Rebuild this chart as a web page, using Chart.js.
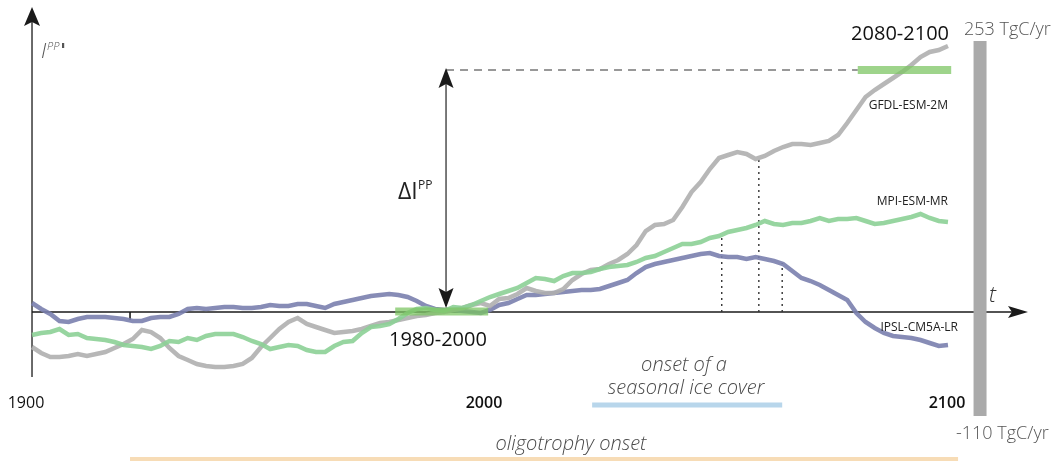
<!DOCTYPE html>
<html>
<head>
<meta charset="utf-8">
<script src="https://cdn.jsdelivr.net/npm/chart.js@4"></script>
<style>
  html, body { margin: 0; padding: 0; background: #fff; }
  #wrap { width: 1059px; height: 462px; position: relative; }
</style>
</head>
<body>
<div id="wrap"><canvas id="ppChart"></canvas></div>
<script>
// time axis, one value every 2 years
const years = [];
for (let yr = 1900; yr <= 2100; yr += 2) years.push(yr);

// I_PP anomaly per model (arbitrary units, 0 = 1980-2000 mean)
const gfdl = [
  -35, -41, -45, -45, -44, -42, -44, -42, -40, -36,
  -32, -27, -18, -20, -26, -36, -44, -48, -52, -54,
  -55, -55, -54, -52, -46, -35, -26, -17, -10, -6,
  -12, -15, -18, -21, -20, -19, -17, -14, -11, -10,
  -8, -6, -4, -3, -1, 0, 2, 4, 7, 9,
  6, 13, 14, 18, 24, 21, 19, 19, 23, 32,
  38, 42, 43, 48, 52, 58, 67, 81, 87, 88,
  92, 105, 120, 130, 143, 154, 157, 160, 158, 153,
  156, 161, 165, 168, 168, 167, 169, 171, 177, 189,
  202, 215, 222, 228, 234, 240, 247, 255, 260, 262,
  266
];
const mpi = [
  -23, -21, -20, -17, -23, -22, -26, -27, -28, -30,
  -33, -34, -35, -37, -34, -29, -30, -26, -28, -24,
  -22, -22, -22, -25, -29, -32, -37, -35, -33, -34,
  -38, -40, -40, -34, -30, -29, -21, -15, -14, -12,
  -7, -1, 3, 4, 2, 1, 5, 4, 7, 11,
  15, 18, 21, 24, 29, 34, 33, 31, 36, 39,
  39, 40, 43, 45, 46, 47, 50, 54, 56, 60,
  64, 68, 68, 70, 74, 76, 80, 82, 84, 87,
  91, 88, 87, 89, 89, 91, 94, 91, 93, 93,
  94, 91, 88, 89, 91, 93, 95, 98, 94, 91,
  90
];
const ipsl = [
  9, 3, -2, -9, -10, -7, -5, -5, -5, -6,
  -7, -9, -9, -6, -5, -5, -2, 3, 4, 3,
  4, 5, 5, 4, 4, 5, 7, 6, 6, 8,
  8, 6, 4, 8, 10, 12, 14, 16, 17, 18,
  17, 15, 11, 6, 3, 2, 2, 1, 0, -1,
  2, 7, 9, 13, 17, 17, 18, 19, 20, 21,
  22, 22, 23, 26, 29, 32, 39, 45, 48, 50,
  52, 54, 56, 58, 59, 56, 55, 55, 53, 55,
  53, 51, 48, 41, 34, 31, 27, 22, 17, 12,
  -1, -10, -16, -21, -24, -25, -26, -28, -31, -34,
  -33
];

const tickYears = [1900, 2000, 2100];
// reference periods: start, end, level
const refStart = [1979.3, 2080.3];
const refEnd = [1999.6, 2100.7];
const refLevel = [0.5, 242];
// onset markers (dotted): year and the curve value where they stop
const onsetYears = [2050.6, 2058.7, 2063.8];
const onsetTops = [77, 153, 49];
// ice cover and oligotrophy onset periods
const icePeriod = [2022.3, 2063.8];
const oligoPeriod = [1921.4, 2102.2];
// range bar on the right (253 / -110 TgC/yr)
const rangeYear = 2107;
const rangeLow = -104;
const rangeHigh = 271;
const deltaYear = 1990.4;

function seg(x1, y1, x2, y2) {
  return [{ x: x1, y: y1 }, { x: x2, y: y2 }];
}
function series(vals) {
  return vals.map((v, i) => ({ x: years[i], y: v }));
}

const datasets = [
  { data: seg(oligoPeriod[0], -147, oligoPeriod[1], -147), borderColor: '#f7dcb6', borderWidth: 4, order: 9 },
  { data: seg(icePeriod[0], -93, icePeriod[1], -93), borderColor: '#b8d6eb', borderWidth: 5, order: 9 },
  { data: seg(rangeYear, rangeLow, rangeYear, rangeHigh), borderColor: '#aaaaaa', borderWidth: 13, order: 9 },
  { data: seg(deltaYear, refLevel[1], refStart[1], refLevel[1]), borderColor: '#333', borderWidth: 1.2, borderDash: [8, 6], order: 8 },
  { data: seg(deltaYear, 6, deltaYear, 236), borderColor: '#333', borderWidth: 1.3, order: 8 }
];
onsetYears.forEach((yr, i) => {
  datasets.push({ data: seg(yr, 0, yr, onsetTops[i]), borderColor: '#333', borderWidth: 1.4, borderDash: [2, 4], order: 7 });
});
datasets.push(
  { label: 'GFDL-ESM-2M', data: series(gfdl), borderColor: 'rgba(175,175,175,0.9)', borderWidth: 4.5, order: 5 },
  { label: 'MPI-ESM-MR', data: series(mpi), borderColor: 'rgba(140,208,150,0.9)', borderWidth: 4.5, order: 4 },
  { label: 'IPSL-CM5A-LR', data: series(ipsl), borderColor: 'rgba(122,128,174,0.9)', borderWidth: 4.5, order: 6 }
);
refStart.forEach((s, i) => {
  datasets.push({ data: seg(s, refLevel[i], refEnd[i], refLevel[i]), borderColor: 'rgba(125,198,100,0.75)', borderWidth: 8, order: 1 });
});
datasets.forEach(d => {
  d.pointRadius = 0;
  d.tension = 0;
  d.fill = false;
  d.clip = false;
  d.borderCapStyle = 'butt';
});

function head(ctx, x, y, dir, len, half) {
  ctx.beginPath();
  ctx.moveTo(x, y);
  if (dir === 'up') { ctx.lineTo(x - half, y + len); ctx.lineTo(x, y + len - 4); ctx.lineTo(x + half, y + len); }
  if (dir === 'down') { ctx.lineTo(x - half, y - len); ctx.lineTo(x, y - len + 4); ctx.lineTo(x + half, y - len); }
  if (dir === 'right') { ctx.lineTo(x - len, y - half); ctx.lineTo(x - len + 4, y); ctx.lineTo(x - len, y + half); }
  ctx.closePath();
  ctx.fill();
}

const annotations = {
  id: 'annotations',
  beforeDatasetsDraw(chart) {
    const { ctx, scales: { x, y } } = chart;
    const x0 = x.getPixelForValue(1900);
    const y0 = y.getPixelForValue(0);
    ctx.save();
    ctx.strokeStyle = '#1a1a1a';
    ctx.fillStyle = '#1a1a1a';
    ctx.lineWidth = 1.3;
    // y axis with arrow
    ctx.beginPath();
    ctx.moveTo(x0, y.getPixelForValue(-65));
    ctx.lineTo(x0, 20);
    ctx.stroke();
    head(ctx, x0, 7, 'up', 19, 8);
    // x axis with arrow
    ctx.beginPath();
    ctx.moveTo(x0, y0);
    ctx.lineTo(1015, y0);
    ctx.stroke();
    head(ctx, 1028, y0, 'right', 20, 6);
    // small tick
    const tx = x.getPixelForValue(oligoPeriod[0]);
    ctx.lineWidth = 1.6;
    ctx.beginPath();
    ctx.moveTo(tx, y0);
    ctx.lineTo(tx, y0 + 8);
    ctx.stroke();
    ctx.restore();
  },
  afterDatasetsDraw(chart) {
    const { ctx, scales: { x, y } } = chart;
    const dx = x.getPixelForValue(deltaYear);
    ctx.save();
    ctx.fillStyle = '#1a1a1a';
    head(ctx, dx, y.getPixelForValue(refLevel[1]) - 2, 'up', 20, 7.5);
    head(ctx, dx, y.getPixelForValue(0) - 4, 'down', 20, 7.5);

    const F = '"Open Sans", sans-serif';
    ctx.textBaseline = 'alphabetic';
    // y axis label I^PP'
    ctx.fillStyle = '#555';
    ctx.font = 'italic 300 21px ' + F;
    ctx.textAlign = 'left';
    ctx.fillText('I', 41, 58);
    ctx.font = 'italic 300 11px ' + F;
    ctx.fillText('PP', 47, 50);
    ctx.fillRect(62, 43, 2.2, 5);

    // delta label
    ctx.fillStyle = '#222';
    ctx.font = '23px ' + F;
    ctx.fillText('\u0394I', 398, 199);
    ctx.font = '12px ' + F;
    ctx.fillText('PP', 418, 189);

    // t
    ctx.fillStyle = '#333';
    ctx.font = 'italic 300 22px ' + F;
    ctx.fillText('t', 989, 302);

    // period labels
    ctx.fillStyle = '#111';
    ctx.font = '20px ' + F;
    ctx.textAlign = 'right';
    ctx.fillText('2080-2100', 949, 40);
    ctx.textAlign = 'left';
    ctx.fillText('1980-2000', 389, 346);

    // range labels
    ctx.fillStyle = '#555';
    ctx.font = '300 18px ' + F;
    ctx.fillText('253 TgC/yr', 964, 35);
    ctx.fillText('-110 TgC/yr', 956, 439);

    // model labels
    ctx.fillStyle = '#222';
    ctx.font = '12px ' + F;
    ctx.textAlign = 'right';
    ctx.fillText('GFDL-ESM-2M', 948, 109);
    ctx.fillText('MPI-ESM-MR', 948, 205);
    ctx.fillText('IPSL-CM5A-LR', 958, 331);

    // year ticks
    ctx.fillStyle = '#111';
    ctx.textAlign = 'center';
    tickYears.forEach((yr, i) => {
      ctx.font = (i === 0 ? '' : '600 ') + '16px ' + F;
      const off = i === 2 ? -1 : -6;
      ctx.fillText(String(yr), x.getPixelForValue(yr) + off, 408);
    });

    // period captions
    ctx.fillStyle = '#4a4a4a';
    ctx.font = 'italic 300 20px ' + F;
    ctx.fillText('onset of a', 684, 371);
    ctx.fillText('seasonal ice cover', 686, 394);
    ctx.fillText('oligotrophy onset', 571, 450);
    ctx.restore();
  }
};

const ctx = document.getElementById('ppChart').getContext('2d');
new Chart(ctx, {
  type: 'line',
  data: { datasets: datasets },
  options: {
    responsive: true,
    maintainAspectRatio: false,
    animation: false,
    layout: { padding: 0 },
    plugins: {
      legend: { display: false },
      tooltip: { enabled: false }
    },
    scales: {
      x: { type: 'linear', min: 1893.01, max: 2124.24, display: false },
      y: { type: 'linear', min: -150, max: 312, display: false }
    }
  },
  plugins: [annotations]
});
</script>
</body>
</html>
